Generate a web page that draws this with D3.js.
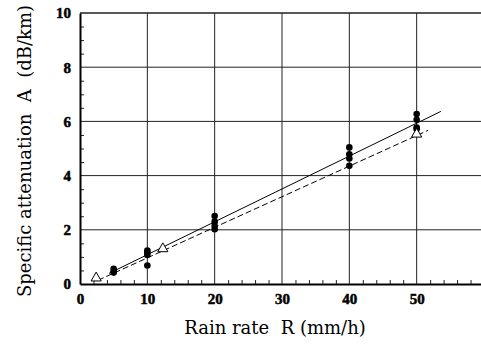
<!DOCTYPE html>
<html>
<head>
<meta charset="utf-8">
<script src="https://cdn.jsdelivr.net/npm/d3@7"></script>
<style>
  body { margin: 0; background: #fff; }
  svg { display: block; }
  .axis-title { font-family: "DejaVu Serif", serif; font-size: 18px; fill: #000; white-space: pre; }
</style>
</head>
<body>
<div id="wrapper"></div>
<script>
// measured points (filled circles)
const rainRates = [5, 5, 5, 10, 10, 10, 10, 20, 20, 20, 20, 40, 40, 40, 40, 50, 50, 50, 50];
const attenuations = [0.56, 0.47, 0.42, 1.23, 1.16, 1.07, 0.68, 2.51, 2.30, 2.14, 2.02, 5.04, 4.79, 4.63, 4.36, 6.27, 6.06, 5.77, 5.72];

// theory points (open triangles)
const theoryRates = [2.4, 12.3, 50];
const theoryAtten = [0.22, 1.30, 5.53];

// fitted lines: end points
const fitRates = [4.3, 53.6];
const fitAtten = [0.39, 6.37];
const dashRates = [2.7, 51.7];
const dashAtten = [0.14, 5.67];

const xTicks = [0, 10, 20, 30, 40, 50];
const yTicks = [0, 2, 4, 6, 8, 10];

const dimension = {
    width: 481,
    height: 347,
    margin: { top: 13, left: 80, bottom: 63, right: -3 }
};
dimension.boundedWidth = dimension.width - dimension.margin.left - dimension.margin.right;
dimension.boundedHeight = dimension.height - dimension.margin.top - dimension.margin.bottom;

const svg = d3.select("#wrapper")
    .append("svg")
    .attr("width", dimension.width)
    .attr("height", dimension.height);

const bounds = svg.append("g")
    .attr("transform", `translate(${dimension.margin.left},${dimension.margin.top})`);

const xScaler = d3.scaleLinear()
    .domain([0, 60])
    .range([0, dimension.boundedWidth]);

const yScaler = d3.scaleLinear()
    .domain([0, 10])
    .range([dimension.boundedHeight, 0]);

// grid
bounds.append("g")
    .selectAll("line")
    .data(xTicks.filter(d => d > 0).concat([60]))
    .join("line")
    .attr("x1", d => xScaler(d)).attr("x2", d => xScaler(d))
    .attr("y1", 0).attr("y2", dimension.boundedHeight)
    .attr("stroke", "#222").attr("stroke-width", 1);

bounds.append("g")
    .selectAll("line")
    .data(yTicks.filter(d => d > 0))
    .join("line")
    .attr("x1", 0).attr("x2", dimension.boundedWidth)
    .attr("y1", d => yScaler(d)).attr("y2", d => yScaler(d))
    .attr("stroke", "#222")
    .attr("stroke-width", d => d === 10 ? 1.5 : 1);

// minor ticks inward
const xMinor = d3.range(0, 61, 2).filter(d => d % 10 !== 0);
const yMinor = d3.range(0, 10.01, 0.5).filter(d => d % 2 !== 0);

bounds.append("g")
    .attr("transform", `translate(0,${dimension.boundedHeight})`)
    .call(d3.axisBottom(xScaler).tickValues(xMinor).tickSize(-4).tickFormat(""))
    .call(g => g.select(".domain").remove())
    .selectAll("line").attr("stroke", "#222");

bounds.append("g")
    .call(d3.axisLeft(yScaler).tickValues(yMinor).tickSize(-4).tickFormat(""))
    .call(g => g.select(".domain").remove())
    .selectAll("line").attr("stroke", "#222");

// main axes
const xAxis = bounds.append("g")
    .attr("transform", `translate(0,${dimension.boundedHeight})`)
    .call(d3.axisBottom(xScaler).tickValues(xTicks).tickSize(0).tickPadding(9));
xAxis.select(".domain").attr("stroke", "#000").attr("stroke-width", 2);

const yAxis = bounds.append("g")
    .call(d3.axisLeft(yScaler).tickValues(yTicks).tickSize(0).tickPadding(9));
yAxis.select(".domain").attr("stroke", "#000").attr("stroke-width", 2);

[xAxis, yAxis].forEach(g => {
    g.attr("font-family", "Liberation Serif")
        .attr("font-size", 15)
        .attr("font-weight", "bold");
    g.selectAll("text")
        .attr("fill", "#000")
        .attr("stroke", "#000")
        .attr("stroke-width", 0.5);
});

// lines
const lineGen = d3.line()
    .x(d => xScaler(d[0]))
    .y(d => yScaler(d[1]));

bounds.append("path")
    .datum(d3.zip(fitRates, fitAtten))
    .attr("d", lineGen)
    .attr("fill", "none")
    .attr("stroke", "#000")
    .attr("stroke-width", 1);

bounds.append("path")
    .datum(d3.zip(dashRates, dashAtten))
    .attr("d", lineGen)
    .attr("fill", "none")
    .attr("stroke", "#000")
    .attr("stroke-width", 1)
    .attr("stroke-dasharray", "6 3");

// circles
bounds.append("g")
    .selectAll("circle")
    .data(d3.zip(rainRates, attenuations))
    .join("circle")
    .attr("cx", d => xScaler(d[0]))
    .attr("cy", d => yScaler(d[1]))
    .attr("r", 3.3)
    .attr("fill", "#000");

// triangles
const triangle = d3.symbol().type(d3.symbolTriangle).size(45);
bounds.append("g")
    .selectAll("path")
    .data(d3.zip(theoryRates, theoryAtten))
    .join("path")
    .attr("d", triangle)
    .attr("transform", d => `translate(${xScaler(d[0])},${yScaler(d[1])})`)
    .attr("fill", "#fff")
    .attr("stroke", "#000")
    .attr("stroke-width", 1);

// labels
svg.append("text")
    .attr("class", "axis-title")
    .attr("x", 275)
    .attr("y", 334)
    .attr("text-anchor", "middle")
    .text("Rain rate  R (mm/h)");

svg.append("text")
    .attr("class", "axis-title")
    .attr("transform", "translate(31,151) rotate(-90)")
    .attr("text-anchor", "middle")
    .text("Specific attenuation  A  (dB/km)");
</script>
</body>
</html>
